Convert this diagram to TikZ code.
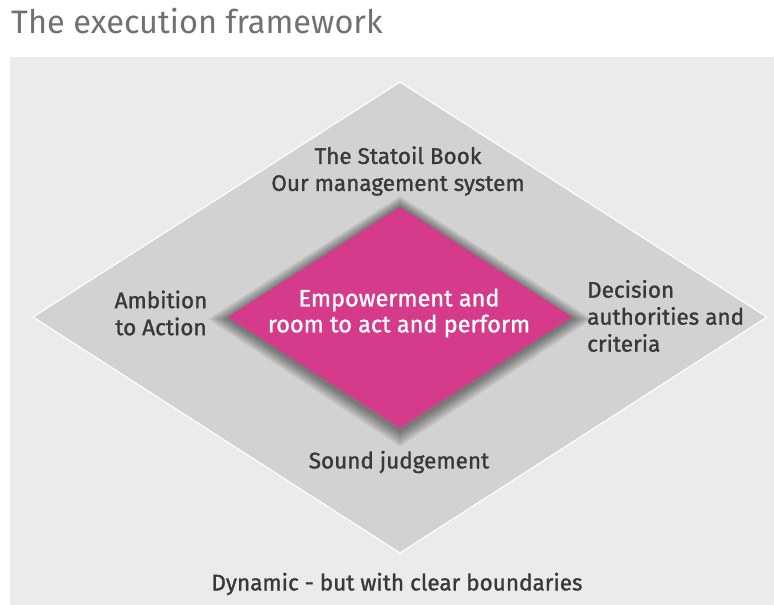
\documentclass[tikz,border=0pt]{standalone}
\usepackage{fontspec}
\setmainfont{Fira Sans}[FakeBold=1.2]
\newfontfamily\titlefont{Fira Sans}
\begin{document}
\begin{tikzpicture}[x=1pt,y=-1pt,
  lbl/.style={text=textdark,font=\fontsize{22.5}{27}\selectfont,align=center,inner sep=0pt},
  inner/.style={text=white,font=\fontsize{23.5}{26}\selectfont,align=center,inner sep=0pt}]
\definecolor{bgpanel}{HTML}{EBEBEB}
\definecolor{diamondgray}{HTML}{D2D2D2}
\definecolor{pinkc}{HTML}{D63A8A}
\definecolor{textdark}{HTML}{38383E}
\definecolor{titlegray}{HTML}{707075}
\useasboundingbox (0,0) rectangle (774,605);
\fill[white] (0,0) rectangle (774,605);
% background panel
\fill[bgpanel] (10,57) rectangle (774,605);
% title
\node[anchor=base west,text=titlegray,font=\titlefont\fontsize{32.5}{36}\selectfont,inner sep=0pt] (title) at (11,34) {The execution framework};
% outer diamond
\fill[diamondgray,draw=white,line width=1.2pt] (400,82) -- (767,317) -- (400,553) -- (33,317) -- cycle;
% shadow of inner diamond
\foreach \s in {1,...,16}{
  \fill[black,opacity=0.03] (400,207-\s*0.7) -- (572+\s*1.3,317+2) -- (400,428+\s+3) -- (228-\s*1.3,317+2) -- cycle;
}
% inner diamond
\fill[pinkc] (400,207) -- (572,317) -- (400,428) -- (228,317) -- cycle;
% labels
\node[inner] (core) at (399,313) {Empowerment and\\room to act and perform};
\node[lbl] (book) at (398,171) {The Statoil Book\\Our management system};
\node[lbl] (ambition) at (161,313) {Ambition\\to Action};
\node[lbl,align=left,anchor=west] (decision) at (587,316) {Decision\\authorities and\\criteria};
\node[lbl] (judgement) at (399,462) {Sound judgement};
\node[lbl] (dynamic) at (397,584) {Dynamic - but with clear boundaries};
\end{tikzpicture}
\end{document}
